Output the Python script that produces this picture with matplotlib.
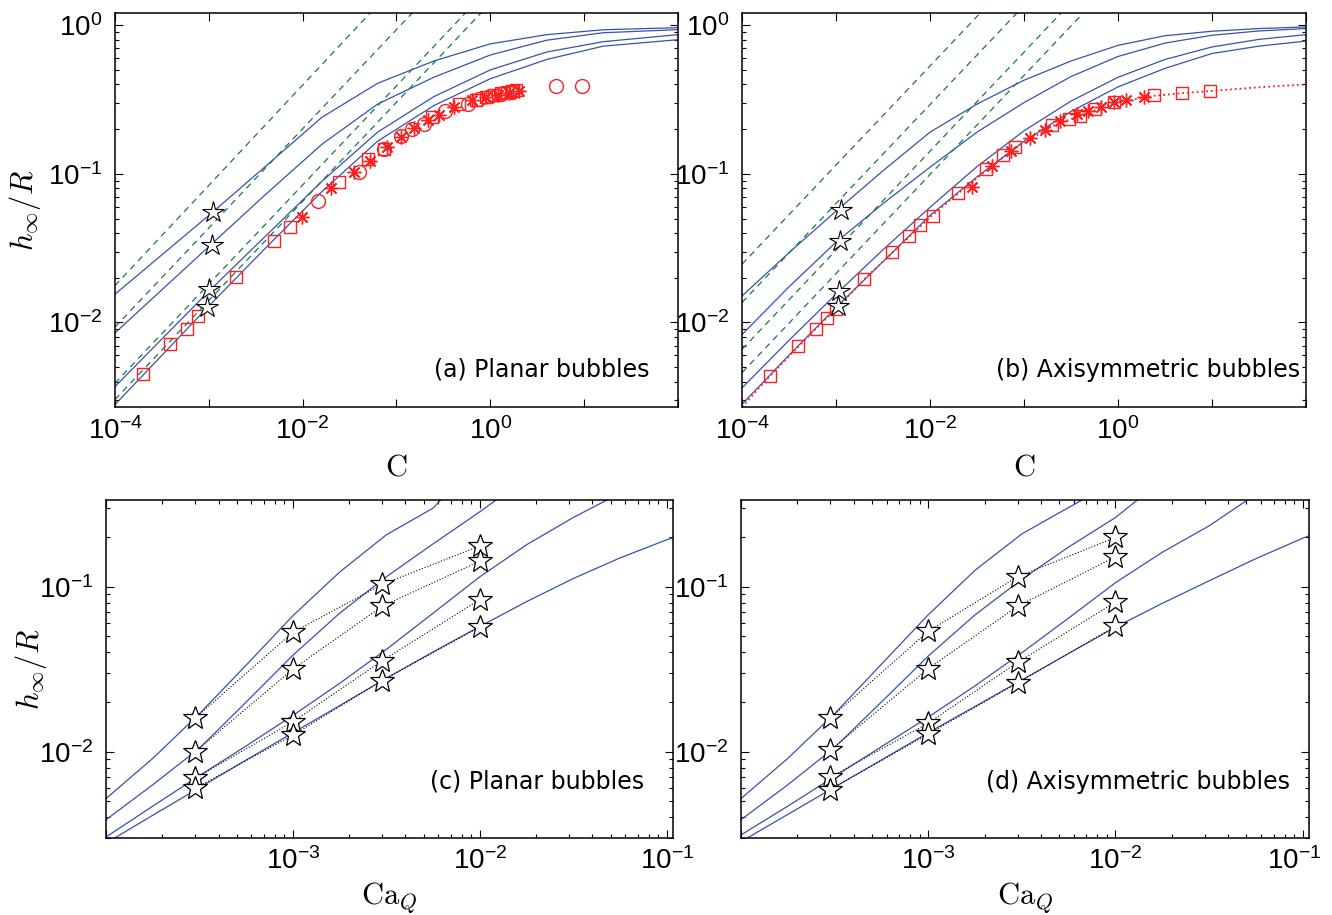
"""
h_inf/R versus C and Ca_Q, planar and axisymmetric bubbles (4 panels)
"""

import matplotlib
matplotlib.use('Agg')
from matplotlib import pyplot as plt
from matplotlib.ticker import NullLocator, LogLocator, NullFormatter
from matplotlib.transforms import ScaledTranslation

plt.rcParams['font.family'] = ['Liberation Sans', 'DejaVu Sans']
plt.rcParams['mathtext.fontset'] = 'cm'

# ---------------- panel (a): planar, h/R vs C ----------------
a_C = [1e-4, 1e-3, 4e-3, 1.6e-2, 6.3e-2, 0.25, 1, 4, 16, 100]
a_curve1 = [0.0155, 0.0525, 0.112, 0.240, 0.407, 0.575, 0.750, 0.865, 0.933, 0.964]
a_curve2 = [0.0085, 0.0324, 0.0724, 0.158, 0.295, 0.447, 0.631, 0.794, 0.891, 0.935]
a_curve3 = [0.0037, 0.0162, 0.038, 0.089, 0.191, 0.331, 0.501, 0.661, 0.776, 0.865]
a_curve4 = [0.0028, 0.0129, 0.0316, 0.0759, 0.166, 0.288, 0.437, 0.589, 0.724, 0.80]

# asymptotes: h at C=1e-4 and C where the line leaves the top of the axes
a_dash_h0 = [0.0177, 0.0093, 0.0039, 0.00303]
a_dash_C1 = [0.0524, 0.147, 0.543, 0.796]

a_sq_C = [2.0e-4, 3.9e-4, 5.9e-4, 7.7e-4, 1.95e-3, 4.9e-3, 7.4e-3, 2.45e-2, 5.0e-2, 7.4e-2,
          0.24, 0.46, 0.7, 0.9, 1.1, 1.3, 1.5, 1.7, 1.9]
a_sq_h = [0.0045, 0.0072, 0.009, 0.0111, 0.0201, 0.0356, 0.0437, 0.088, 0.126, 0.1475,
          0.241, 0.296, 0.315, 0.33, 0.34, 0.35, 0.355, 0.36, 0.365]
a_circ_C = [0.0146, 0.0398, 0.074, 0.112, 0.147, 0.198, 0.333, 0.574, 0.754, 1.0, 1.3, 1.7, 5.0, 9.5]
a_circ_h = [0.066, 0.1026, 0.1475, 0.181, 0.201, 0.217, 0.267, 0.296, 0.32, 0.335, 0.345, 0.355, 0.39, 0.39]
a_ast_C = [0.0099, 0.0203, 0.0357, 0.0524, 0.079, 0.112, 0.155, 0.215, 0.283, 0.414, 0.64, 0.9, 1.2, 1.6, 2.0]
a_ast_h = [0.0516, 0.0805, 0.1026, 0.123, 0.151, 0.177, 0.203, 0.229, 0.25, 0.281, 0.312, 0.33, 0.34, 0.35, 0.36]

a_star_C = [1.1e-3, 1.07e-3, 1.0e-3, 0.96e-3]
a_star_h = [0.055, 0.0332, 0.0168, 0.0128]

# ---------------- panel (b): axisymmetric, h/R vs C ----------------
b_C = [1e-4, 3.16e-4, 1e-3, 3.16e-3, 1e-2, 3.16e-2, 0.1, 0.316, 1, 3.16, 10, 31.6, 100]
b_curve1 = [0.0151, 0.0295, 0.0562, 0.105, 0.191, 0.295, 0.427, 0.575, 0.733, 0.851, 0.912, 0.951, 0.975]
b_curve2 = [0.0083, 0.0174, 0.0347, 0.0631, 0.111, 0.191, 0.302, 0.452, 0.617, 0.759, 0.857, 0.916, 0.951]
b_curve3 = [0.00363, 0.00759, 0.0155, 0.0309, 0.0596, 0.112, 0.195, 0.309, 0.447, 0.589, 0.715, 0.804, 0.865]
b_curve4 = [0.00282, 0.00603, 0.0126, 0.0257, 0.0525, 0.0955, 0.166, 0.263, 0.385, 0.513, 0.646, 0.724, 0.783]

b_dash_h0 = [0.0247, 0.01365, 0.0066, 0.0046]
b_dash_C1 = [0.0342, 0.0841, 0.248, 0.427]

b_sq_C = [1.97e-4, 3.9e-4, 6.05e-4, 8.1e-4, 1.0e-3, 1.97e-3, 3.9e-3, 5.9e-3, 7.9e-3, 1.08e-2,
          1.97e-2, 3.98e-2, 5.93e-2, 7.94e-2, 0.197, 0.30, 0.39, 0.562, 0.90, 2.43, 4.8, 9.5]
b_sq_h = [0.00437, 0.0069, 0.0090, 0.0108, 0.0123, 0.0196, 0.0296, 0.0384, 0.0455, 0.0524,
          0.0741, 0.108, 0.133, 0.151, 0.212, 0.235, 0.247, 0.274, 0.304, 0.337, 0.35, 0.359]
b_ast_C = [0.0279, 0.0456, 0.0731, 0.117, 0.169, 0.243, 0.37, 0.48, 0.66, 0.90, 1.23, 1.87]
b_ast_h = [0.0813, 0.1127, 0.1436, 0.175, 0.198, 0.226, 0.254, 0.267, 0.284, 0.304, 0.315, 0.329]
b_dot_C = [1e-4, 2e-4, 4e-4, 6e-4, 1e-3, 2e-3, 4e-3, 1e-2, 2e-2, 4e-2, 8e-2, 0.2, 0.4, 0.9, 2.4, 5, 10, 30, 100]
b_dot_h = [0.0027, 0.0044, 0.0069, 0.009, 0.0123, 0.0196, 0.0296, 0.051, 0.074, 0.106, 0.148, 0.21,
           0.247, 0.30, 0.335, 0.35, 0.362, 0.382, 0.40]

b_star_C = [1.12e-3, 1.1e-3, 1.08e-3, 1.06e-3]
b_star_h = [0.057, 0.0352, 0.0162, 0.0130]

# ---------------- panels (c), (d): h/R vs Ca_Q ----------------
Ca_grid = [1e-4, 1.78e-4, 3.16e-4, 5.62e-4, 1e-3, 1.78e-3, 3.16e-3, 5.62e-3,
           1e-2, 1.78e-2, 3.16e-2, 5.62e-2, 0.1, 0.112]

c_curves = [
    (Ca_grid[:8] + [6.31e-3],
     [0.0052, 0.00912, 0.0170, 0.0335, 0.0668, 0.123, 0.2065, 0.300, 0.345]),
    (Ca_grid[:9] + [1.26e-2],
     [0.00387, 0.00631, 0.0105, 0.0200, 0.0385, 0.0692, 0.115, 0.182, 0.285, 0.345]),
    (Ca_grid[:11] + [5.01e-2],
     [0.00304, 0.00468, 0.00716, 0.01084, 0.0166, 0.0260, 0.0417, 0.0692, 0.115, 0.180, 0.263, 0.345]),
    (Ca_grid,
     [0.00279, 0.00412, 0.00605, 0.00891, 0.01303, 0.01905, 0.0279, 0.0403, 0.0575, 0.0813,
      0.1122, 0.1496, 0.1928, 0.2018]),
]
d_curves = [
    (Ca_grid[:7] + [4.68e-3, 6.92e-3],
     [0.0052, 0.00912, 0.0170, 0.0339, 0.0676, 0.126, 0.209, 0.269, 0.345]),
    (Ca_grid[:9] + [1.35e-2],
     [0.00387, 0.00631, 0.0106, 0.0200, 0.0380, 0.0676, 0.111, 0.174, 0.263, 0.345]),
    (Ca_grid[:11] + [5.25e-2],
     [0.00313, 0.00468, 0.00708, 0.01072, 0.0162, 0.0251, 0.0398, 0.0646, 0.1059, 0.162, 0.234, 0.345]),
    (Ca_grid,
     [0.00285, 0.00417, 0.0061, 0.00891, 0.01303, 0.01884, 0.0272, 0.0394, 0.0569, 0.0794,
      0.1086, 0.148, 0.197, 0.2065]),
]
Ca_star = [3e-4, 1e-3, 3e-3, 1e-2]
c_stars = [
    [0.0160, 0.053, 0.1033, 0.177],
    [0.0100, 0.0317, 0.0762, 0.143],
    [0.0069, 0.0152, 0.0356, 0.0837],
    [0.0060, 0.0126, 0.0270, 0.0571],
]
d_stars = [
    [0.0160, 0.0537, 0.115, 0.199],
    [0.0102, 0.0319, 0.0762, 0.152],
    [0.0070, 0.0149, 0.0348, 0.0807],
    [0.0059, 0.0128, 0.0261, 0.0577],
]

blue = '#3553ad'
green = '#16794a'
red = '#ff1f1f'
asterisk = (8, 2, 0)
txt_font = ['DejaVu Sans']

fig = plt.figure(figsize=(13.32, 9.15), dpi=100)
ax_a = fig.add_axes([0.0863, 0.5552, 0.4227, 0.4306])
ax_b = fig.add_axes([0.5571, 0.5552, 0.4234, 0.4306])
ax_c = fig.add_axes([0.0796, 0.0842, 0.4257, 0.3694])
ax_d = fig.add_axes([0.5563, 0.0842, 0.4264, 0.3694])


def style(ax, xlim, ylim, xticks, xlabels, yticks, ylabels, xminor):
    ax.set_xscale('log')
    ax.set_yscale('log')
    ax.set_xlim(*xlim)
    ax.set_ylim(*ylim)
    ax.set_xticks(xticks)
    ax.set_xticklabels(xlabels)
    ax.set_yticks(yticks)
    ax.set_yticklabels(ylabels)
    if xminor:
        ax.xaxis.set_minor_locator(LogLocator(base=10, subs=range(2, 10)))
    else:
        ax.xaxis.set_minor_locator(NullLocator())
    ax.yaxis.set_minor_locator(LogLocator(base=10, subs=range(2, 10)))
    ax.xaxis.set_minor_formatter(NullFormatter())
    ax.yaxis.set_minor_formatter(NullFormatter())
    ax.tick_params(which='both', direction='in', top=True, right=True, labelsize=20)
    ax.tick_params(axis='x', pad=7)
    ax.tick_params(axis='y', pad=9)
    ax.tick_params(which='major', length=6, width=0.8)
    ax.tick_params(which='minor', length=3, width=0.8)
    for s in ax.spines.values():
        s.set_linewidth(1.1)


top_xt = [1e-4, 1e-3, 1e-2, 1e-1, 1, 10, 100]
top_xl = [r'$\mathdefault{10^{-4}}$', '', r'$\mathdefault{10^{-2}}$', '', r'$\mathdefault{10^{0}}$', '', '']
top_yt = [1e-2, 1e-1, 1]
top_yl = [r'$\mathdefault{10^{-2}}$', r'$\mathdefault{10^{-1}}$', r'$\mathdefault{10^{0}}$']
bot_xt = [1e-4, 1e-3, 1e-2, 1e-1]
bot_xl = ['', r'$\mathdefault{10^{-3}}$', r'$\mathdefault{10^{-2}}$', r'$\mathdefault{10^{-1}}$']
bot_yt = [1e-2, 1e-1]
bot_yl = [r'$\mathdefault{10^{-2}}$', r'$\mathdefault{10^{-1}}$']

# (a)
for h in [a_curve1, a_curve2, a_curve3, a_curve4]:
    ax_a.plot(a_C, h, color=blue, lw=0.9)
for h0, c1 in zip(a_dash_h0, a_dash_C1):
    ax_a.plot([1e-4, c1], [h0, 1.21], color=green, lw=0.9, dashes=(5, 4))
ax_a.plot(a_sq_C, a_sq_h, ls='none', marker='s', ms=9, mfc='none', mec=red, mew=1.0)
ax_a.plot(a_circ_C, a_circ_h, ls='none', marker='o', ms=10, mfc='none', mec=red, mew=1.0)
ax_a.plot(a_ast_C, a_ast_h, ls='none', marker=asterisk, ms=10, mec=red, mew=1.0)
ax_a.plot(a_star_C, a_star_h, ls='none', marker='*', ms=16, mfc='white', mec='black', mew=0.8)
style(ax_a, (1e-4, 100), (0.0027, 1.21), top_xt, top_xl, top_yt, top_yl, False)
ax_a.text(0.95, 0.094, '(a) Planar bubbles', transform=ax_a.transAxes, ha='right', va='center',
          fontsize=17, family=txt_font)
ax_a.set_xlabel(r'$\mathrm{C}$', fontsize=22)
ax_a.xaxis.set_label_coords(0.5, -0.115)
ax_a.set_ylabel(r'$h_\infty/R$', fontsize=22)
ax_a.yaxis.set_label_coords(-0.128, 0.5)

# (b)
for h in [b_curve1, b_curve2, b_curve3, b_curve4]:
    ax_b.plot(b_C, h, color=blue, lw=0.9)
for h0, c1 in zip(b_dash_h0, b_dash_C1):
    ax_b.plot([1e-4, c1], [h0, 1.21], color=green, lw=0.9, dashes=(5, 4))
ax_b.plot(b_dot_C, b_dot_h, color=red, lw=1.3, ls=':')
ax_b.plot(b_sq_C, b_sq_h, ls='none', marker='s', ms=9, mfc='none', mec=red, mew=1.0)
ax_b.plot(b_ast_C, b_ast_h, ls='none', marker=asterisk, ms=10, mec=red, mew=1.0)
ax_b.plot(b_star_C, b_star_h, ls='none', marker='*', ms=16, mfc='white', mec='black', mew=0.8)
style(ax_b, (1e-4, 100), (0.0027, 1.21), top_xt, top_xl, top_yt, top_yl, False)
ax_b.text(0.99, 0.094, '(b) Axisymmetric bubbles', transform=ax_b.transAxes, ha='right', va='center',
          fontsize=17, family=txt_font)
ax_b.set_xlabel(r'$\mathrm{C}$', fontsize=22)
ax_b.xaxis.set_label_coords(0.5, -0.115)

# (c), (d)
for ax, curves, stars, label, lx in [(ax_c, c_curves, c_stars, '(c) Planar bubbles', 0.949),
                                     (ax_d, d_curves, d_stars, '(d) Axisymmetric bubbles', 0.967)]:
    for cx, cy in curves:
        ax.plot(cx, cy, color=blue, lw=0.9)
    for hs in stars:
        ax.plot(Ca_star, hs, color='black', lw=0.8, ls=':', marker='*', ms=18,
                mfc='white', mec='black', mew=0.9)
    style(ax, (1.02e-4, 0.108), (0.0030, 0.336), bot_xt, bot_xl, bot_yt, bot_yl, True)
    ax.text(lx, 0.167, label, transform=ax.transAxes, ha='right', va='center', fontsize=17, family=txt_font)
    ax.set_xlabel(r'$\mathrm{Ca}_Q$', fontsize=22)
    ax.xaxis.set_label_coords(0.5, -0.125)
ax_c.set_ylabel(r'$h_\infty/R$', fontsize=22)
ax_c.yaxis.set_label_coords(-0.100, 0.5)

# keep the last tick label of (d) inside the figure
last = ax_d.xaxis.get_major_ticks()[-1].label1
last.set_transform(last.get_transform() + ScaledTranslation(-6 / 72, 0, fig.dpi_scale_trans))

fig.savefig('out.png', dpi=100)
